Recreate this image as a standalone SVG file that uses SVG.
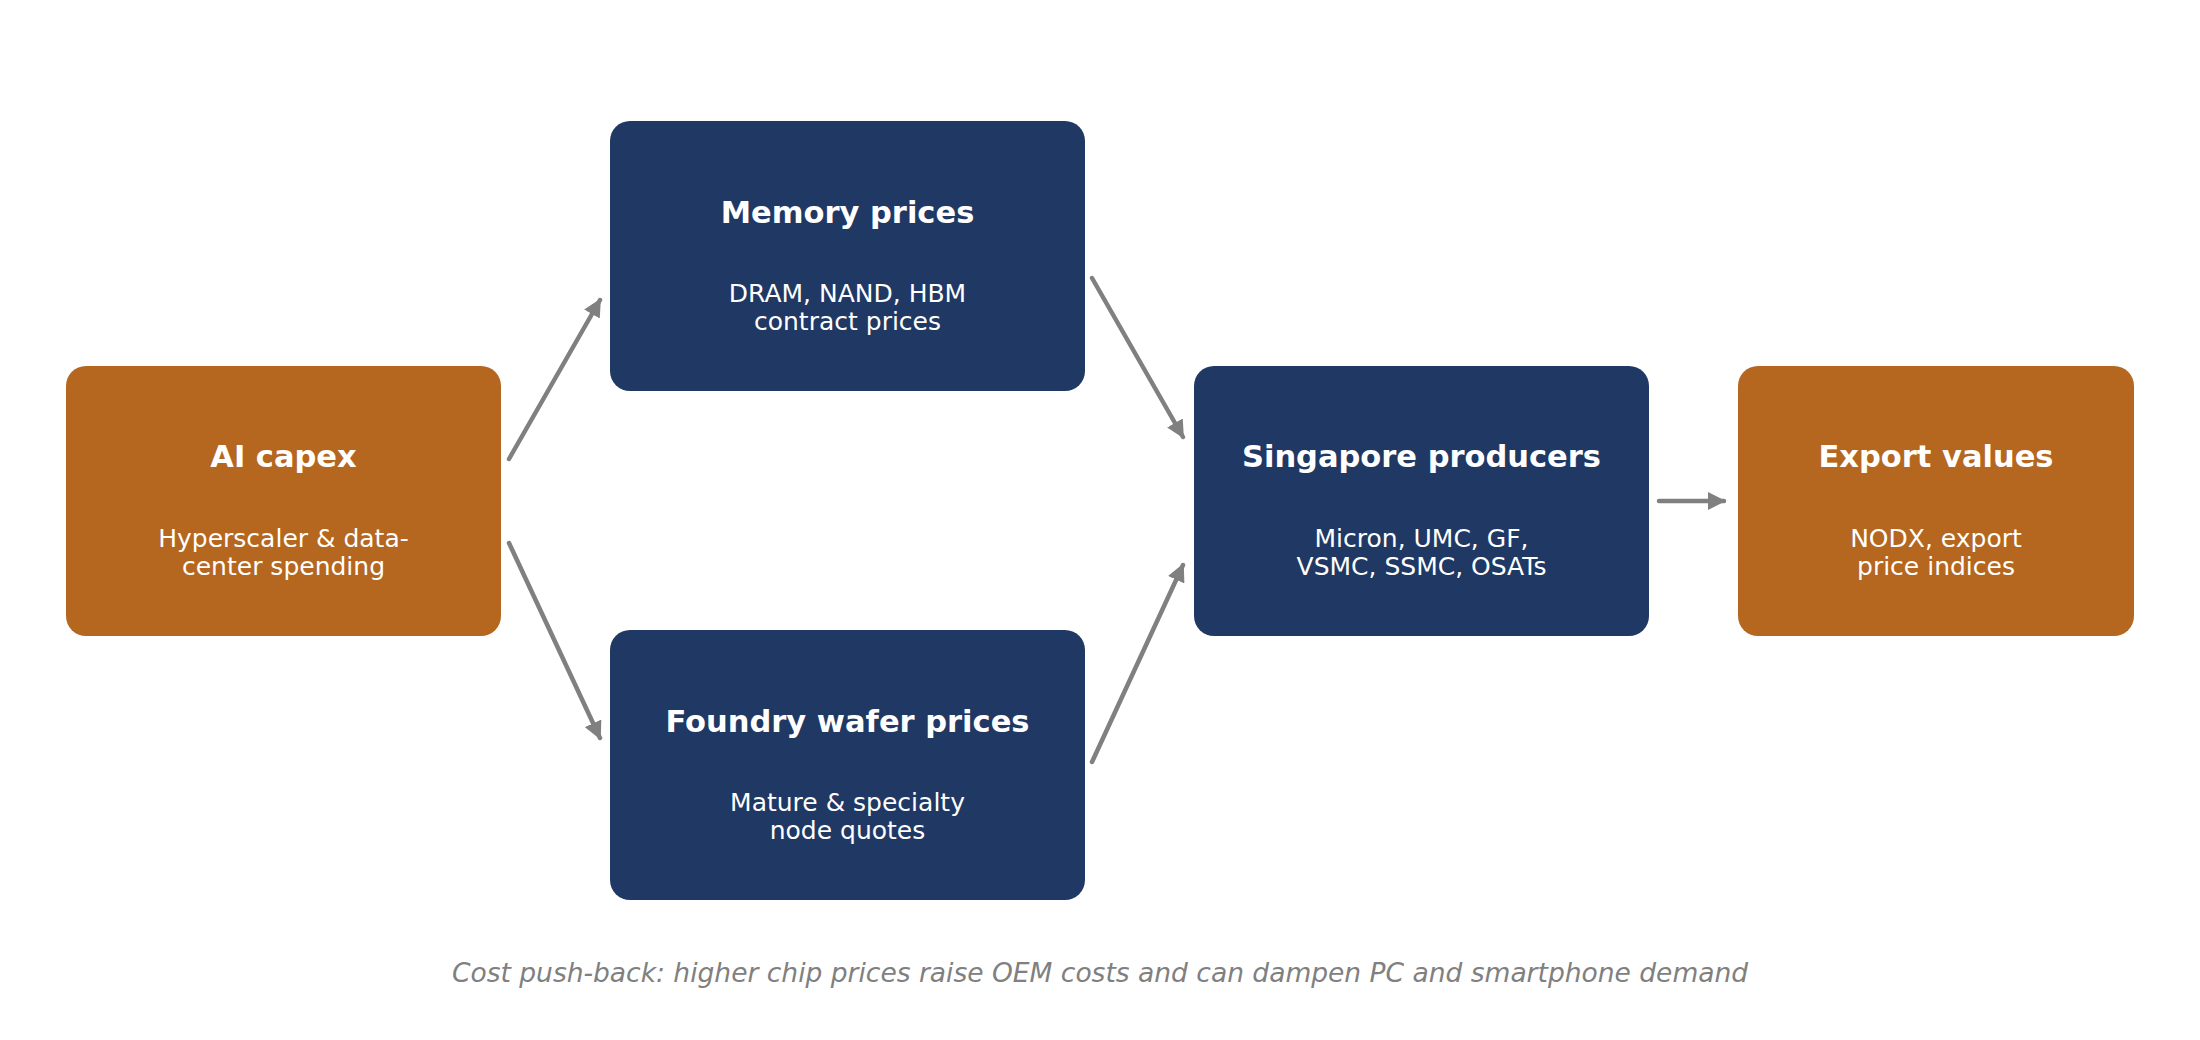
<svg xmlns="http://www.w3.org/2000/svg" width="2200" height="1040" viewBox="0 0 2200 1040">
<style>
.orange{fill:#B5661F}
.navy{fill:#203864}
.t{font-family:"DejaVu Sans",sans-serif;font-weight:bold;font-size:30.5px;fill:#fff;text-anchor:middle}
.s{font-family:"DejaVu Sans",sans-serif;font-size:25px;fill:#fff;text-anchor:middle}
.cap{font-family:"DejaVu Sans",sans-serif;font-style:italic;font-size:26.5px;fill:#808080;text-anchor:middle}
.c{stroke:#808080;stroke-width:4.5;fill:none;stroke-linecap:round;marker-end:url(#ah)}
</style>
<defs>
<marker id="ah" viewBox="0 0 10 10" refX="9" refY="5" markerWidth="4" markerHeight="4" orient="auto" markerUnits="strokeWidth">
<path d="M0,0 L10,5 L0,10 z" fill="#808080"/>
</marker>
</defs>
<rect width="2200" height="1040" fill="#fff"/>
<g id="connectors">
<line class="c" x1="509" y1="459" x2="600" y2="300"/>
<line class="c" x1="509" y1="543" x2="600" y2="738"/>
<line class="c" x1="1092" y1="278" x2="1183" y2="437"/>
<line class="c" x1="1092" y1="762" x2="1183" y2="565"/>
<line class="c" x1="1659" y1="501" x2="1724" y2="501"/>
</g>
<g id="ai-capex">
<rect class="orange" x="66" y="366" width="435" height="270" rx="20"/>
<text class="t" x="283.5" y="467">AI capex</text>
<text class="s" x="283.5" y="547">Hyperscaler &amp; data-</text>
<text class="s" x="283.5" y="575">center spending</text>
</g>
<g id="memory-prices">
<rect class="navy" x="610" y="121" width="475" height="270" rx="20"/>
<text class="t" x="847.5" y="223">Memory prices</text>
<text class="s" x="847.5" y="302">DRAM, NAND, HBM</text>
<text class="s" x="847.5" y="330">contract prices</text>
</g>
<g id="foundry-wafer-prices">
<rect class="navy" x="610" y="630" width="475" height="270" rx="20"/>
<text class="t" x="847.5" y="732">Foundry wafer prices</text>
<text class="s" x="847.5" y="811">Mature &amp; specialty</text>
<text class="s" x="847.5" y="839">node quotes</text>
</g>
<g id="singapore-producers">
<rect class="navy" x="1194" y="366" width="455" height="270" rx="20"/>
<text class="t" x="1421.5" y="467">Singapore producers</text>
<text class="s" x="1421.5" y="547">Micron, UMC, GF,</text>
<text class="s" x="1421.5" y="575">VSMC, SSMC, OSATs</text>
</g>
<g id="export-values">
<rect class="orange" x="1738" y="366" width="396" height="270" rx="20"/>
<text class="t" x="1936" y="467">Export values</text>
<text class="s" x="1936" y="547">NODX, export</text>
<text class="s" x="1936" y="575">price indices</text>
</g>
<text class="cap" x="1100" y="982">Cost push-back: higher chip prices raise OEM costs and can dampen PC and smartphone demand</text>
</svg>
